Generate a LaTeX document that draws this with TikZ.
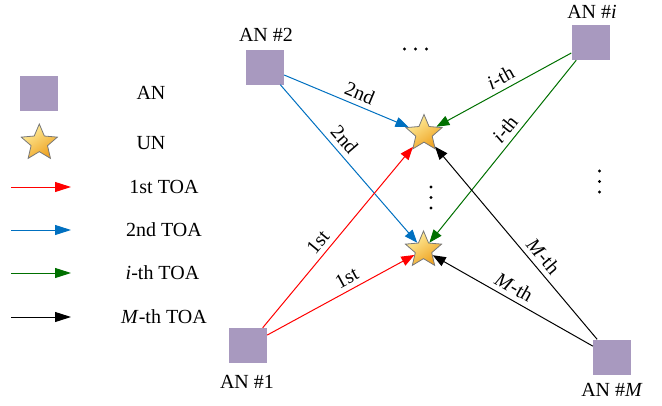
\documentclass[tikz,border=0pt]{standalone}
\usepackage{fontspec}
\setmainfont{Liberation Serif}
\usetikzlibrary{shapes.geometric,arrows.meta}
\definecolor{anfill}{RGB}{168,153,191}
\definecolor{cred}{RGB}{255,0,0}
\definecolor{cblue}{RGB}{0,112,192}
\definecolor{cgreen}{RGB}{0,112,0}
\definecolor{starborder}{RGB}{120,120,120}
\definecolor{starlight}{RGB}{255,240,160}
\definecolor{stardark}{RGB}{238,160,30}
\begin{document}
\begin{tikzpicture}[x=1pt,y=-1pt,
  an/.style={rectangle, fill=anfill, minimum width=38pt, minimum height=35pt, inner sep=0pt},
  un/.style={star, star points=5, star point ratio=2.2, minimum size=38pt, inner sep=0pt,
    draw=starborder, line width=0.8pt, top color=starlight, bottom color=stardark, shading angle=35},
  lbl/.style={font=\fontsize{20}{24}\selectfont, inner sep=0pt},
  conn/.style={line width=1pt, -{Triangle[length=13pt,width=10pt]}},
  legarrow/.style={line width=1pt, -{Triangle[length=16pt,width=10pt]}},
  tag/.style={sloped, above=3pt, font=\fontsize{20}{24}\selectfont, inner sep=2pt},
  dot/.style={circle, fill=black, inner sep=0pt, minimum size=3.2pt}
]
\useasboundingbox (0,0) rectangle (662,405);

% legend
\node[an] (legan) at (39,93.5) {};
\node[lbl] (legantxt) at (151,93) {AN};
\node[un] (legun) at (39.3,143) {};
\node[lbl] (leguntxt) at (151,143) {UN};
\coordinate (l1a) at (11,187); \coordinate (l1b) at (71,187);
\coordinate (l2a) at (11,230); \coordinate (l2b) at (71,230);
\coordinate (l3a) at (11,273); \coordinate (l3b) at (71,273);
\coordinate (l4a) at (11,317); \coordinate (l4b) at (71,317);
\draw[legarrow, cred] (l1a) -- (l1b);
\draw[legarrow, cblue] (l2a) -- (l2b);
\draw[legarrow, cgreen] (l3a) -- (l3b);
\draw[legarrow, black] (l4a) -- (l4b);
\node[lbl] (leg1) at (164,187) {1st TOA};
\node[lbl] (leg2) at (164,230) {2nd TOA};
\node[lbl] (leg3) at (162.5,273) {\textit{i}-th TOA};
\node[lbl] (leg4) at (164,317) {\textit{M}-th TOA};

% anchor nodes
\node[an] (an2) at (265,67) {};
\node[lbl] (an2t) at (266,35) {AN \#2};
\node[an] (ani) at (590.5,42.5) {};
\node[lbl] (anit) at (592,12) {AN \#\textit{i}};
\node[an] (an1) at (248,345.5) {};
\node[lbl] (an1t) at (247,382) {AN \#1};
\node[an] (anm) at (612,357) {};
\node[lbl] (anmt) at (612,390) {AN \#\textit{M}};

% user nodes
\node[un] (un1) at (424,133.5) {};
\node[un] (un2) at (423.5,250) {};

% dots
\node[dot] (h1) at (404.5,49) {};
\node[dot] (h2) at (415.5,49) {};
\node[dot] (h3) at (426.5,49) {};
\node[dot] (v1) at (431,187) {};
\node[dot] (v2) at (431,197.5) {};
\node[dot] (v3) at (431,208) {};
\node[dot] (r1) at (599.5,171) {};
\node[dot] (r2) at (599.5,181.5) {};
\node[dot] (r3) at (599.5,192) {};

% connectors
\draw[conn, cblue] (an2) -- node[tag, pos=0.57, text=black] {2nd} (un1);
\draw[conn, cblue] (an2) -- node[tag, pos=0.40, text=black] {2nd} (un2);
\draw[conn, cgreen] (ani) -- node[tag, pos=0.48, text=black] {\textit{i}-th} (un1);
\draw[conn, cgreen] (ani) -- node[tag, pos=0.42, text=black] {\textit{i}-th} (un2);
\draw[conn, cred] (an1) -- node[tag, pos=0.43, text=black] {1st} (un1);
\draw[conn, cred] (an1) -- node[tag, pos=0.58, text=black] {1st} (un2);
\draw[conn, black] (anm) -- node[tag, pos=0.39] {\textit{M}-th} (un1);
\draw[conn, black] (anm) -- node[tag, pos=0.53] {\textit{M}-th} (un2);
\end{tikzpicture}
\end{document}
